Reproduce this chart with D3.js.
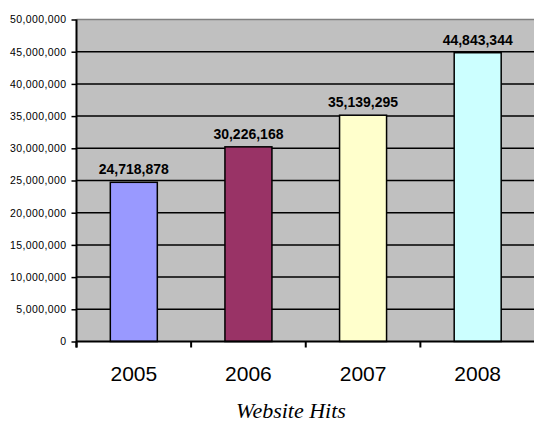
<!DOCTYPE html>
<html>
<head>
<meta charset="utf-8">
<script src="https://cdn.jsdelivr.net/npm/d3@7"></script>
<style>
  html, body { margin: 0; padding: 0; background: #fff; }
  svg { display: block; }
</style>
</head>
<body>
<svg id="chart" width="534" height="423"></svg>
<script>
// Yearly website hits
const years = ["2005", "2006", "2007", "2008"];
const hits = [24718878, 30226168, 35139295, 44843344];
const barColors = ["#9999ff", "#993366", "#ffffcc", "#ccffff"];
const yTicks = [0, 5000000, 10000000, 15000000, 20000000, 25000000, 30000000, 35000000, 40000000, 45000000, 50000000];
const chartTitle = "Website Hits";

const svg = d3.select("#chart");
const plotLeft = 76.5, plotRight = 535, plotTop = 19.5, plotBottom = 341.5;

const x = d3.scaleBand().domain(years).range([plotLeft, plotRight])
  .paddingInner(0.59).paddingOuter(0.295);
const y = d3.scaleLinear().domain([0, 50000000]).range([plotBottom, plotTop]);
const fmt = d3.format(",");

// plot background
svg.append("rect")
  .attr("x", plotLeft).attr("y", plotTop)
  .attr("width", plotRight - plotLeft).attr("height", plotBottom - plotTop)
  .attr("fill", "#c0c0c0");

// horizontal gridlines
svg.append("g").selectAll("line")
  .data(yTicks.filter(t => t > 0))
  .join("line")
  .attr("x1", plotLeft).attr("x2", plotRight)
  .attr("y1", d => y(d)).attr("y2", d => y(d))
  .attr("stroke", d => d === 50000000 ? "#808080" : "#000")
  .attr("stroke-width", 1.5);

// bars
svg.append("g").selectAll("rect")
  .data(years)
  .join("rect")
  .attr("x", d => x(d))
  .attr("y", (d, i) => y(hits[i]))
  .attr("width", x.bandwidth())
  .attr("height", (d, i) => y(0) - y(hits[i]))
  .attr("fill", (d, i) => barColors[i])
  .attr("stroke", "#000")
  .attr("stroke-width", 1.5);

// value labels
svg.append("g").selectAll("text")
  .data(years)
  .join("text")
  .attr("x", d => x(d) + x.bandwidth() / 2)
  .attr("y", (d, i) => y(hits[i]) - 8)
  .attr("text-anchor", "middle")
  .attr("font-family", "Arial, 'Liberation Sans', sans-serif")
  .attr("font-weight", "bold")
  .attr("font-size", 14)
  .attr("fill", "#000")
  .text((d, i) => fmt(hits[i]));

// y axis
const yAxis = svg.append("g")
  .attr("transform", `translate(${plotLeft},0)`)
  .call(d3.axisLeft(y).tickValues(yTicks).tickFormat(fmt).tickSize(5).tickPadding(5));
yAxis.select(".domain").attr("stroke", "#000").attr("stroke-width", 2)
  .attr("d", `M0,${plotTop}V${plotBottom + 6}`);
yAxis.selectAll(".tick line").attr("stroke", "#000").attr("stroke-width", 1.5);
yAxis.selectAll(".tick text")
  .attr("font-family", "Arial, 'Liberation Sans', sans-serif")
  .attr("font-size", 10.5)
  .attr("letter-spacing", 0.4)
  .attr("fill", "#000");

// x axis with ticks at category boundaries
const xAxis = svg.append("g")
  .attr("transform", `translate(0,${plotBottom})`);
xAxis.append("line")
  .attr("x1", plotLeft).attr("x2", plotRight)
  .attr("stroke", "#000").attr("stroke-width", 2);
xAxis.selectAll("line.bound")
  .data(years)
  .join("line")
  .attr("class", "bound")
  .attr("x1", d => x(d) - x.step() * x.paddingOuter())
  .attr("x2", d => x(d) - x.step() * x.paddingOuter())
  .attr("y1", 0).attr("y2", 6)
  .attr("stroke", "#000").attr("stroke-width", 2);
xAxis.selectAll("text.year")
  .data(years)
  .join("text")
  .attr("class", "year")
  .attr("x", d => x(d) + x.bandwidth() / 2)
  .attr("y", 39)
  .attr("text-anchor", "middle")
  .attr("font-family", "Arial, 'Liberation Sans', sans-serif")
  .attr("font-size", 21)
  .attr("fill", "#000")
  .text(d => d);

// title
svg.append("text")
  .attr("x", 291)
  .attr("y", 418)
  .attr("text-anchor", "middle")
  .attr("font-family", "'Liberation Serif', 'Times New Roman', serif")
  .attr("font-style", "italic")
  .attr("font-size", 22)
  .attr("fill", "#000")
  .text(chartTitle);
</script>
</body>
</html>
